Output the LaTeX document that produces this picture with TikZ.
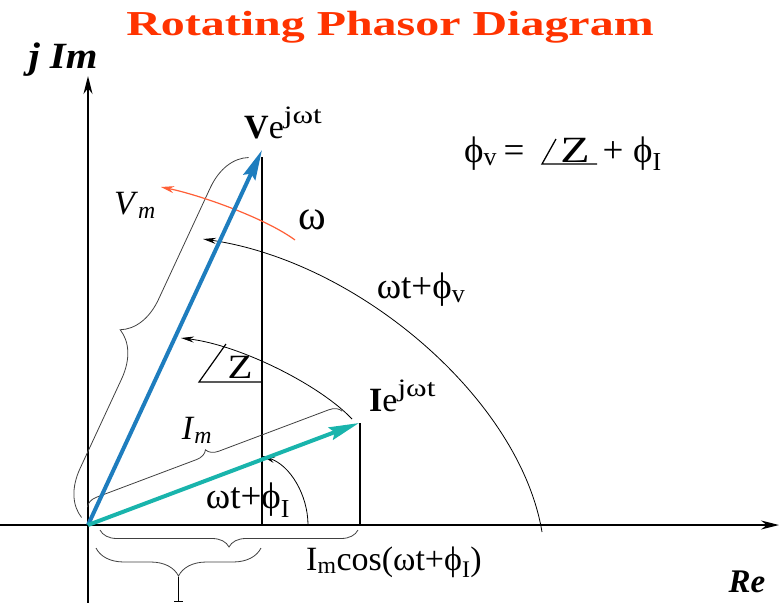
\documentclass[tikz,border=0pt]{standalone}
\usepackage{fontspec}
\setmainfont{Liberation Serif}
\usepackage{graphicx}
\usetikzlibrary{arrows.meta,decorations.pathreplacing,calc}
\definecolor{titlered}{RGB}{255,51,0}
\definecolor{vblue}{RGB}{30,125,190}
\definecolor{iteal}{RGB}{25,180,172}
\definecolor{omegared}{RGB}{255,95,55}
\newcommand{\supjwt}{\raisebox{0.42em}{\fontsize{25}{25}\selectfont\scalebox{1.25}[1]{jωt}}}
\begin{document}
\begin{tikzpicture}[x=1pt,y=-1pt,
  lbl/.style={font=\fontsize{34}{36}\selectfont, inner sep=0pt},
  biglbl/.style={font=\fontsize{37}{40}\selectfont, inner sep=0pt},
  eqlbl/.style={font=\fontsize{37}{40}\selectfont, inner sep=0pt},
  axisline/.style={line width=1.7pt, -{Stealth[length=18pt,width=9pt]}},
  guide/.style={line width=1.7pt},
  thinarc/.style={line width=0.8pt, -{Stealth[length=13pt,width=6pt]}},
  vecv/.style={line width=4pt, draw=vblue, -{Stealth[length=30pt,width=13pt,inset=4pt]}},
  veci/.style={line width=4pt, draw=iteal, -{Stealth[length=30pt,width=13pt,inset=4pt]}},
  bracepath/.style={line width=0.8pt, draw=black!75, decorate},
]
\useasboundingbox (0,0) rectangle (780,603);

% key points
\coordinate (O) at (88,525);
\coordinate (xs) at (0,525);
\coordinate (xe) at (779,525);
\coordinate (yb) at (88,603);
\coordinate (yt) at (88,76);
\coordinate (Vtip) at (262,150);
\coordinate (Itip) at (359,423);
\coordinate (Vtop) at (262,157);
\coordinate (Vfoot) at (262,525);
\coordinate (Itop) at (360,423);
\coordinate (Ifoot) at (360,525);

% title and axis labels
\node[font=\bfseries\fontsize{35}{38}\selectfont, text=titlered, inner sep=0pt] (title) at (390,27) {\scalebox{1.37}[1]{Rotating Phasor Diagram}};
\node[font=\bfseries\itshape\fontsize{37}{40}\selectfont, inner sep=0pt] (jim) at (63,60) {\scalebox{1.1}[1]{j Im}};
\node[font=\bfseries\itshape\fontsize{33}{36}\selectfont, inner sep=0pt] (re) at (747,582) {Re};

% axes
\draw[axisline] (xs) -- (xe);
\draw[axisline] (yb) -- (yt);

% projection lines
\draw[guide] (Vtop) -- (Vfoot);
\draw[guide] (Itop) -- (Ifoot);

% braces along vectors
\draw[bracepath, decoration={brace, amplitude=44pt, raise=9pt, aspect=0.47}]
  ($(O)!0.01!(Vtip)$) -- ($(O)!0.97!(Vtip)$);
\draw[bracepath, decoration={brace, amplitude=12pt, raise=17pt, aspect=0.48}]
  ($(O)!0.02!(Itip)$) -- ($(O)!0.96!(Itip)$);

% braces under axis
\coordinate (b1r) at (358,530);
\coordinate (b1l) at (100,530);
\coordinate (b2r) at (261,548);
\coordinate (b2l) at (96,548);
\draw[bracepath, decoration={brace, amplitude=17pt, aspect=0.5}] (b1r) -- (b1l);
\draw[bracepath, decoration={brace, amplitude=28pt, aspect=0.5}] (b2r) -- (b2l);
\coordinate (b2tip) at (178.5,577);
\coordinate (b2end) at (178.5,601);
\coordinate (b2barl) at (174,601);
\coordinate (b2barr) at (183,601);
\draw[line width=0.9pt] (b2tip) -- (b2end);
\draw[line width=0.9pt] (b2barl) -- (b2barr);

% arcs
\coordinate (avs) at (542,532);
\coordinate (ave) at (203,239);
\draw[thinarc] (avs) .. controls (520,400) and (360,262) .. (ave);
\coordinate (azs) at (352,419);
\coordinate (aze) at (181,338);
\draw[thinarc] (azs) .. controls (320,385) and (240,345) .. (aze);
\coordinate (ais) at (308,525);
\coordinate (aie) at (262,456);
\draw[thinarc] (ais) .. controls (308,495) and (290,465) .. (aie);
\coordinate (aws) at (295,240);
\coordinate (awe) at (161,187);
\draw[line width=1.2pt, draw=omegared, -{Stealth[length=13pt,width=7pt]}]
  (aws) .. controls (265,218) and (200,195) .. (awe);

% vectors
\draw[vecv] (O) -- (Vtip);
\draw[veci] (O) -- (Itip);

% angle Z mark
\coordinate (zc) at (199,382);
\coordinate (zt) at (226,344);
\coordinate (zr) at (262,382);
\draw[line width=1.2pt] (zt) -- (zc) -- (zr);
\node[lbl] (zlbl) at (240,367) {\scalebox{1.2}[1]{Z}};

% labels
\node[lbl, anchor=base west] (vlab) at (244,138) {\textbf{V}e\supjwt};
\node[lbl, anchor=base west] (ilab) at (369,411) {\textbf{I}e\supjwt};
\node[lbl] (vm) at (135,205) {\textit{V}\textsubscript{\textit{m}}};
\node[lbl] (imlab) at (197,430) {\textit{I}\textsubscript{\textit{m}}};
\node[font=\fontsize{42}{44}\selectfont, inner sep=0pt] (om) at (312,220) {ω};
\node[biglbl] (wtv) at (421,290) {ωt+ϕ\textsubscript{v}};
\node[biglbl] (wti) at (248,500) {ωt+ϕ\textsubscript{I}};
\node[lbl] (imcos) at (394,562) {I\textsubscript{m}cos(ωt+ϕ\textsubscript{I})};

% equation
\node[eqlbl, anchor=base west] (eqa) at (464,162) {ϕ\textsubscript{v}};
\node[eqlbl, anchor=base] (eqeq) at (514,162) {=};
\node[eqlbl, anchor=base] (eqz) at (575,162) {\scalebox{1.3}[1]{Z}};
\node[eqlbl, anchor=base] (eqp) at (613,162) {+};
\node[eqlbl, anchor=base west] (eqb) at (633,162) {ϕ\textsubscript{I}};
\coordinate (ea1) at (542,164);
\coordinate (ea2) at (556,139);
\coordinate (ea3) at (597,164);
\draw[line width=1.3pt] (ea2) -- (ea1) -- (ea3);
\end{tikzpicture}
\end{document}
